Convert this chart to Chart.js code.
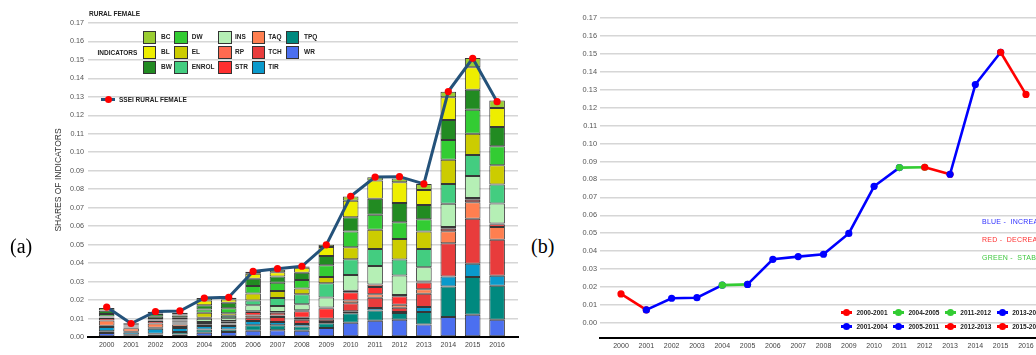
<!DOCTYPE html>
<html><head><meta charset="utf-8">
<script src="https://cdn.jsdelivr.net/npm/chart.js@4.4.1/dist/chart.umd.min.js"></script>
<style>
html,body{margin:0;padding:0;background:#fff;}
#wrap{position:relative;width:1036px;height:355px;overflow:hidden;font-family:"Liberation Sans",Arial,sans-serif;background:#fff;}
#boxA{position:absolute;left:0;top:0;width:530px;height:365px;}
#boxB{position:absolute;left:560px;top:0;width:520px;height:365px;}
.t{position:absolute;white-space:pre;line-height:1;transform:translateY(-50%);}
.b{position:absolute;box-sizing:border-box;}
</style></head><body>
<div id="wrap">
 <div id="boxA"><canvas id="cA" width="530" height="365"></canvas></div>
 <div id="boxB"><canvas id="cB" width="520" height="365"></canvas></div>
 <div id="overlay"></div>
</div>
<script>
// ---------- DATA ----------
const years = [2000,2001,2002,2003,2004,2005,2006,2007,2008,2009,2010,2011,2012,2013,2014,2015,2016];
const yTicks = [0,0.01,0.02,0.03,0.04,0.05,0.06,0.07,0.08,0.09,0.10,0.11,0.12,0.13,0.14,0.15,0.16,0.17];
const ssei = [0.0162,0.0073,0.0138,0.0141,0.0211,0.0215,0.0355,0.0370,0.0383,0.0499,0.0762,0.0866,0.0868,0.0829,0.1329,0.1509,0.1274];

const indicatorNames  = ['BC','BL','BW','DW','EL','ENROL','INS','RP','STR','TAQ','TCH','TIR','TPQ','WR'];
const indicatorColors = ['#9acd32','#eeee00','#228b22','#33cc33','#cccc00','#43cd80','#b5efb5','#ff6a50','#ff3030','#ff7f50','#e83c3c','#0a9acc','#00897f','#4b6ff0'];

const BC    = [.0013,.0008,.0010,.0009,.0014,.0009,.0010,.0013,.0007,.0013,.0022,.0018,.0020,.0032,.0030,.0050,.0040];
const BL    = [.0002,.0002,.0003,.0005,.0025,.0018,.0027,.0023,.0027,.0049,.0090,.0099,.0112,.0081,.0123,.0123,.0103];
const BW    = [.0018,.0003,.0014,.0013,.0023,.0030,.0040,.0034,.0040,.0050,.0077,.0086,.0105,.0077,.0108,.0108,.0104];
const DW    = [.0013,.0003,.0012,.0009,.0018,.0027,.0041,.0045,.0045,.0063,.0085,.0081,.0090,.0067,.0108,.0130,.0103];
const EL    = [.0002,.0002,.0003,.0005,.0027,.0013,.0038,.0038,.0032,.0034,.0065,.0104,.0112,.0095,.0130,.0114,.0104];
const ENROL = [.0002,.0002,.0003,.0007,.0005,.0014,.0025,.0043,.0054,.0077,.0085,.0092,.0086,.0099,.0108,.0115,.0103];
const INS   = [.0002,.0002,.0003,.0005,.0018,.0014,.0032,.0032,.0032,.0054,.0085,.0101,.0105,.0077,.0126,.0119,.0108];
const RP    = [.0002,.0002,.0003,.0005,.0005,.0005,.0005,.0005,.0005,.0005,.0009,.0013,.0007,.0005,.0009,.0009,.0005];
const STR   = [.0013,.0002,.0013,.0005,.0005,.0009,.0018,.0014,.0036,.0056,.0045,.0040,.0047,.0036,.0013,.0013,.0014];
const TAQ   = [.0029,.0019,.0023,.0014,.0005,.0005,.0013,.0009,.0010,.0005,.0014,.0018,.0016,.0025,.0065,.0090,.0069];
const TCH   = [.0007,.0003,.0005,.0005,.0007,.0009,.0018,.0027,.0023,.0013,.0043,.0056,.0023,.0072,.0180,.0243,.0195];
const TIR   = [.0023,.0014,.0027,.0022,.0018,.0018,.0023,.0018,.0014,.0007,.0011,.0013,.0005,.0027,.0054,.0072,.0054];
const TPQ   = [.0009,.0003,.0005,.0014,.0018,.0014,.0029,.0027,.0023,.0025,.0052,.0056,.0036,.0068,.0166,.0204,.0184];
const WR    = [.0022,.0009,.0013,.0013,.0023,.0027,.0034,.0036,.0034,.0049,.0077,.0088,.0094,.0067,.0108,.0121,.0094];
const indicatorValues = [BC,BL,BW,DW,EL,ENROL,INS,RP,STR,TAQ,TCH,TIR,TPQ,WR];

const segNames  = ['2000-2001','2001-2004','2004-2005','2005-2011','2011-2012','2012-2013','2013-2015','2015-2016'];
const segFrom   = [2000,2001,2004,2005,2011,2012,2013,2015];
const segTo     = [2001,2004,2005,2011,2012,2013,2015,2016];
const segColors = ['#ff0000','#0000ff','#33cc33','#0000ff','#33cc33','#ff0000','#0000ff','#ff0000'];

const noteTexts  = ['BLUE -  INCREASE','RED -  DECREASE','GREEN -  STABLE'];
const noteColors = ['#3030ff','#ff3030','#40c840'];

// ---------- CHART A ----------
const gridCol = '#d6d6d6';
const barSets = indicatorNames.map((n,i)=>({
  type:'bar', label:n, data:indicatorValues[i], backgroundColor:indicatorColors[i],
  borderColor:'rgba(20,20,20,0.85)', borderWidth:1, borderSkipped:false,
  categoryPercentage:1, barPercentage:0.64, order:1
})).reverse();
const lineA = {type:'line', label:'SSEI RURAL FEMALE', data:ssei, borderColor:'#24527a', borderWidth:3,
  pointRadius:3.6, pointBackgroundColor:'#ff0000', pointBorderWidth:0, tension:0, order:0};

new Chart(document.getElementById('cA'), {
  data:{labels:years, datasets:[...barSets, lineA]},
  options:{
    responsive:false, animation:false,
    layout:{padding:{left:50, top:23, right:12, bottom:0}},
    plugins:{legend:{display:false}, tooltip:{enabled:false}},
    scales:{
      x:{type:'linear', min:1999.234, max:2016.857, offset:false, stacked:true,
        grid:{display:false, drawTicks:false, offset:false},
        border:{display:true, color:'#000', width:2},
        afterBuildTicks:s=>{s.ticks = years.map(v=>({value:v}));},
        afterFit:s=>{s.height = 28;},
        ticks:{autoSkip:false, maxRotation:0, padding:4, color:'#444', font:{size:7, family:'Liberation Sans'}, callback:v=>String(v)},
        title:{display:true, text:'YEAR', color:'#333', font:{size:8, family:'Liberation Sans'}, padding:{top:2, bottom:0}}
      },
      y:{min:0, max:0.17, stacked:true,
        grid:{color:gridCol, lineWidth:1.6, drawTicks:false},
        border:{display:false},
        afterBuildTicks:s=>{s.ticks = yTicks.map(v=>({value:v}));},
        afterFit:s=>{s.width = 38;},
        ticks:{padding:4, color:'#555', font:{size:7.2, family:'Liberation Sans'}, callback:v=>v.toFixed(2)},
        title:{display:true, text:'SHARES OF INDICATORS', color:'#333', font:{size:8.5, family:'Liberation Sans'}, padding:{top:4, bottom:0}}
      }
    }
  }
});

// ---------- CHART B ----------
const segSets = segNames.map((n,k)=>({
  type:'line', label:n,
  data: years.map((y,i)=> (y>=segFrom[k] && y<=segTo[k]) ? ssei[i] : null),
  borderColor:segColors[k], backgroundColor:segColors[k], pointBackgroundColor:segColors[k],
  borderWidth:2.6, pointRadius:3.6, pointBorderWidth:0, tension:0, spanGaps:false, order:segNames.length-k
}));
new Chart(document.getElementById('cB'), {
  data:{labels:years, datasets:segSets},
  options:{
    responsive:false, animation:false,
    layout:{padding:{left:0, top:18, right:10, bottom:0}},
    plugins:{legend:{display:false}, tooltip:{enabled:false}},
    scales:{
      x:{type:'linear', min:1999.17, max:2017.74, offset:false,
        grid:{display:false, drawTicks:false},
        border:{display:true, color:'#000', width:2},
        afterBuildTicks:s=>{s.ticks = years.map(v=>({value:v}));},
        afterFit:s=>{s.height = 27;},
        ticks:{autoSkip:false, maxRotation:0, padding:4, color:'#444', font:{size:7, family:'Liberation Sans'}, callback:v=>String(v)}
      },
      y:{min:-0.00837, max:0.17,
        grid:{color:gridCol, lineWidth:1.6, drawTicks:false},
        border:{display:false},
        afterBuildTicks:s=>{s.ticks = yTicks.map(v=>({value:v}));},
        afterFit:s=>{s.width = 40;},
        ticks:{padding:3, color:'#555', font:{size:7.4, family:'Liberation Sans'}, callback:v=>v.toFixed(2)}
      }
    }
  }
});

// ---------- OVERLAY (labels & legends) ----------
const ov = document.getElementById('overlay');
function txt(s, x, y, css){ const d=document.createElement('div'); d.className='t'; d.textContent=s;
  d.style.left=x+'px'; d.style.top=y+'px'; Object.assign(d.style, css||{}); ov.appendChild(d); return d; }
function box(x, y, w, h, css){ const d=document.createElement('div'); d.className='b';
  d.style.left=x+'px'; d.style.top=y+'px'; d.style.width=w+'px'; d.style.height=h+'px'; Object.assign(d.style, css||{}); ov.appendChild(d); return d; }

const serif = {fontFamily:'"Liberation Serif","Times New Roman",serif', fontSize:'20px', color:'#000'};
txt('(a)', 10, 246, serif);
txt('(b)', 531, 246, serif);

const smallBold = {fontSize:'6.5px', fontWeight:'bold', color:'#222'};
txt('RURAL FEMALE', 89, 14, smallBold);
txt('INDICATORS', 97.5, 52.5, smallBold);
const colBoxX = [142.7, 174.3, 218.3, 251.7, 286];
const colLabX = [161, 191.7, 235, 268.3, 304];
indicatorNames.forEach((n,i)=>{
  const c = Math.floor(i/3), r = i%3;
  const top = 30.7 + r*15.1;
  box(colBoxX[c], top, 13.3, 13, {background:indicatorColors[i], border:'1px solid #333'});
  txt(n, colLabX[c], top+6.5, smallBold);
});
box(101, 98, 14, 3, {background:'#24527a'});
box(104.5, 96, 7, 7, {background:'#ff0000', borderRadius:'50%'});
txt('SSEI RURAL FEMALE', 119, 99.5, smallBold);

segNames.forEach((n,k)=>{
  const c = Math.floor(k/2), r = k%2;
  const x = 841 + c*51.9, y = 312.7 + r*14;
  box(x, y-1.5, 11, 3, {background:segColors[k]});
  box(x+2, y-3.5, 7, 7, {background:segColors[k], borderRadius:'50%'});
  txt(n, x+15.5, y, smallBold);
});
noteTexts.forEach((s,k)=>{
  txt(s, 982, 221 + k*18, {fontSize:'7px', color:noteColors[k], letterSpacing:'0.25px'});
});
</script>
</body></html>
